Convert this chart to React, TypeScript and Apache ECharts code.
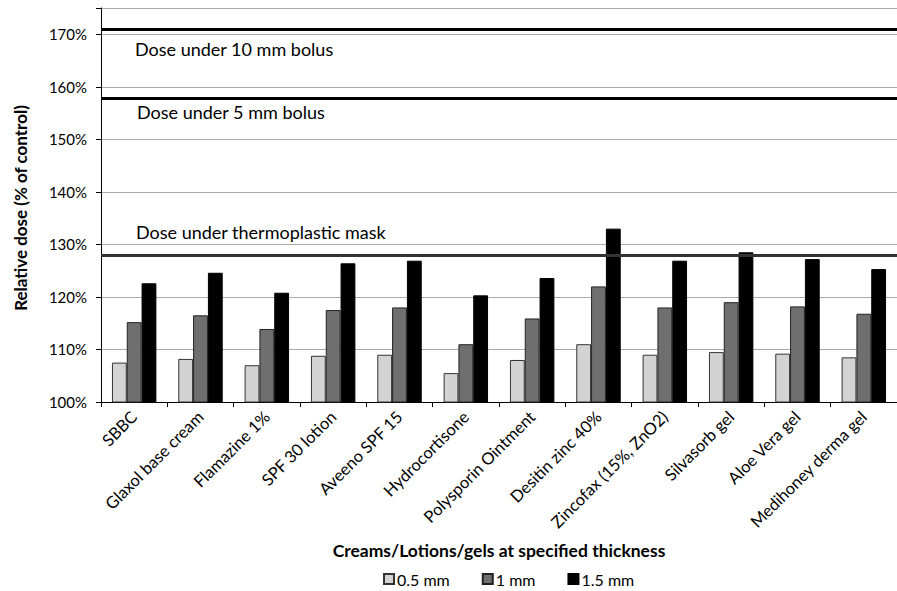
import React, { useEffect, useRef } from "react";
import * as echarts from "echarts";

const categories = [
  "SBBC",
  "Glaxol base cream",
  "Flamazine 1%",
  "SPF 30 lotion",
  "Aveeno SPF 15",
  "Hydrocortisone",
  "Polysporin Ointment",
  "Desitin zinc 40%",
  "Zincofax (15%, ZnO2)",
  "Silvasorb gel",
  "Aloe Vera gel",
  "Medihoney derma gel",
];
const mm05 = [107.5, 108.2, 107.0, 108.8, 109.0, 105.5, 108.0, 111.0, 109.0, 109.5, 109.2, 108.5];
const mm10 = [115.2, 116.5, 113.9, 117.5, 118.0, 111.0, 115.9, 122.0, 118.0, 119.0, 118.2, 116.8];
const mm15 = [122.6, 124.6, 120.8, 126.4, 126.9, 120.3, 123.6, 133.0, 126.9, 128.5, 127.2, 125.3];
const refLevels = [170.9, 157.9, 128.0];
const refLabels = ["Dose under 10 mm bolus", "Dose under 5 mm bolus", "Dose under thermoplastic mask"];
const seriesNames = ["0.5 mm", "1 mm", "1.5 mm"];
const yTitle = "Relative dose (% of control)";
const xTitle = "Creams/Lotions/gels at specified thickness";

const FONT = "Lato";

export default function App() {
  const ref = useRef<HTMLDivElement>(null);
  useEffect(() => {
    if (!ref.current) return;
    const chart = echarts.init(ref.current, undefined, { renderer: "svg" });
    const bar = (name: string, data: number[], color: string, border: string) => ({
      name,
      type: "bar",
      data,
      barGap: "0%",
      barCategoryGap: "33%",
      itemStyle: { color, borderColor: border, borderWidth: 1 },
    });
    const s0: any = bar(seriesNames[0], mm05, "#d3d3d3", "#333");
    s0.markLine = {
      silent: true,
      symbol: "none",
      label: { show: false },
      data: [
        { yAxis: refLevels[0], lineStyle: { color: "#000", width: 3, type: "solid" } },
        { yAxis: refLevels[1], lineStyle: { color: "#000", width: 3, type: "solid" } },
        { yAxis: refLevels[2], lineStyle: { color: "#333", width: 3, type: "solid" } },
      ],
    };
    chart.setOption({
      animation: false,
      textStyle: { fontFamily: FONT },
      grid: { left: 101, right: -8, top: 8, bottom: 189, containLabel: false },
      legend: {
        top: 566,
        left: 378,
        itemWidth: 10,
        itemHeight: 10,
        itemGap: 32,
        icon: "rect",
        textStyle: { fontFamily: FONT, fontSize: 16, color: "#000", padding: [0, 0, 0, -2] },
        data: seriesNames,
      },
      xAxis: {
        type: "category",
        data: categories,
        name: xTitle,
        nameLocation: "middle",
        nameGap: 139,
        nameTextStyle: { fontFamily: FONT, fontSize: 17.5, fontWeight: "bold", color: "#000" },
        axisLine: { lineStyle: { color: "#000", width: 1 } },
        axisTick: { show: true, alignWithLabel: false, length: 5, lineStyle: { color: "#000" } },
        axisLabel: { rotate: 45, fontFamily: FONT, fontSize: 16.5, color: "#000", margin: 12, interval: 0 },
      },
      yAxis: {
        type: "value",
        min: 100,
        max: 175,
        interval: 10,
        axisLine: { show: true, lineStyle: { color: "#000", width: 1 } },
        axisTick: { show: true, length: 5, lineStyle: { color: "#000" } },
        axisLabel: {
          fontFamily: FONT,
          fontSize: 15,
          color: "#000",
          margin: 14,
          formatter: (v: number) => (v % 10 === 0 ? v + "%" : ""),
        },
        splitLine: { show: true, lineStyle: { color: "#aaa", width: 1 } },
      },
      graphic: [
        { type: "text", left: 135, top: 40, style: { text: refLabels[0], font: `18px '${FONT}'`, fill: "#000" } },
        { type: "text", left: 137, top: 103, style: { text: refLabels[1], font: `18px '${FONT}'`, fill: "#000" } },
        { type: "text", left: 136, top: 223, style: { text: refLabels[2], font: `18px '${FONT}'`, fill: "#000" } },
        {
          type: "text",
          x: 20,
          y: 208,
          rotation: Math.PI / 2,
          style: {
            text: yTitle,
            font: `bold 17px '${FONT}'`,
            fill: "#000",
            align: "center",
            verticalAlign: "middle",
          },
        },
      ],
      series: [
        s0,
        bar(seriesNames[1], mm10, "#6f6f6f", "#222"),
        bar(seriesNames[2], mm15, "#000", "#000"),
      ],
    });
    return () => chart.dispose();
  }, []);
  return (
    <div
      ref={ref}
      style={{ position: "absolute", left: 0, top: 0, width: 897, height: 591, overflow: "hidden" }}
    />
  );
}
